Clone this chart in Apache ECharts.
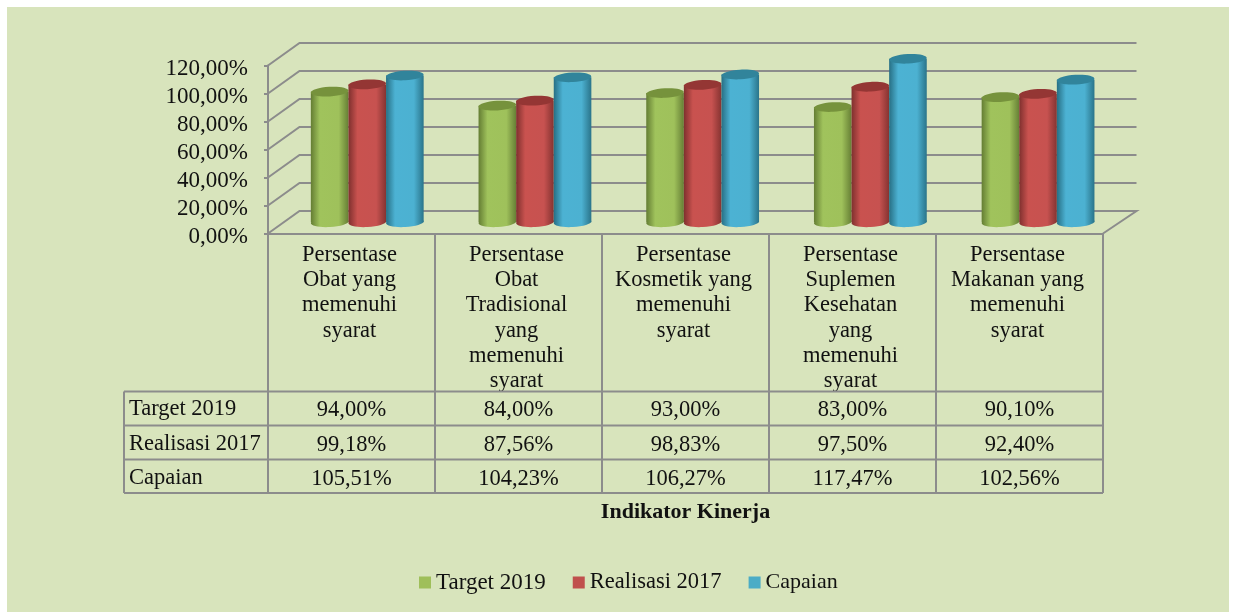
<!DOCTYPE html>
<html><head><meta charset="utf-8">
<style>html,body{margin:0;padding:0;background:#fff}#c{width:1236px;height:613px}</style>
<script src="https://cdn.jsdelivr.net/npm/echarts@6/dist/echarts.min.js"></script>
</head><body><div id="c"></div>
<script>
const categories = [
  'Persentase\nObat yang\nmemenuhi\nsyarat',
  'Persentase\nObat\nTradisional\nyang\nmemenuhi\nsyarat',
  'Persentase\nKosmetik yang\nmemenuhi\nsyarat',
  'Persentase\nSuplemen\nKesehatan\nyang\nmemenuhi\nsyarat',
  'Persentase\nMakanan yang\nmemenuhi\nsyarat'
];
const target2019 = [94.00, 84.00, 93.00, 83.00, 90.10];
const realisasi2017 = [99.18, 87.56, 98.83, 97.50, 92.40];
const capaian = [105.51, 104.23, 106.27, 117.47, 102.56];
const seriesNames = ['Target 2019', 'Realisasi 2017', 'Capaian'];
const yTicks = [0, 20, 40, 60, 80, 100, 120];

const FONT = '"Liberation Serif", serif';
const FS = 22.5;
const TXT = '#111111';
const GRID = '#8c8c8c';
const DX = 31.5, DY = 22.5;
const BAR_W = 37.6, RY = 4.8, TILT = 0.055, DRIFT = 0.7, TOP_SHIFT = 1;
const ROW_Y = [391.5, 425.5, 459.5, 493];
const ROW_SHIFT = [1.5, 2.5, 2.5];
const TABLE_LEFT = 124;
const fmt = v => v.toFixed(2).replace('.', ',') + '%';

const palettes = [
  {edgeL:'#647d33', mid:'#a0c35c', mid2:'#9fc15b', edgeR:'#667f35', top:'#76923c', leg:'#9fbf5a'},
  {edgeL:'#7f302e', mid:'#c9524f', mid2:'#c75250', edgeR:'#853331', top:'#943634', leg:'#c0504d'},
  {edgeL:'#276f84', mid:'#4cb2d3', mid2:'#4cb1d1', edgeR:'#2a748a', top:'#31849b', leg:'#4bacc6'}
];

function grad(p){
  return new echarts.graphic.LinearGradient(0,0,1,0,[
    {offset:0,color:p.edgeL},{offset:0.24,color:p.mid},
    {offset:0.74,color:p.mid2},{offset:1,color:p.edgeR}
  ]);
}

function barRender(si){
  const p = palettes[si];
  return function(params, api){
    const cat = api.value(0), val = api.value(1);
    const top = api.coord([cat, val]);
    const base = api.coord([cat, 0]);
    const cx = base[0] + DX/2 + (si-1)*BAR_W + cat*DRIFT;
    const by = base[1] - DY/2;
    const ty = top[1] - DY/2 + TOP_SHIFT;
    const g = grad(p);
    const rx = BAR_W/2;
    return {type:'group', children:[
      {type:'ellipse', x:cx, y:by, rotation:TILT, shape:{cx:0,cy:0,rx:rx,ry:RY}, style:{fill:g}},
      {type:'rect', shape:{x:cx-rx, y:ty, width:BAR_W, height:by-ty}, style:{fill:g}},
      {type:'ellipse', x:cx, y:ty, rotation:TILT, shape:{cx:0,cy:0,rx:rx,ry:RY}, style:{fill:p.top}},
      {type:'text', x:base[0], y:(ROW_Y[si]+ROW_Y[si+1])/2+ROW_SHIFT[si], style:{
        text:fmt(val), font:FS+'px '+FONT, fill:TXT, align:'center', verticalAlign:'middle'}}
    ]};
  };
}

function gridRender(params, api){
  const cs = params.coordSys;
  const y = api.coord([0, api.value(0)])[1];
  const L = cs.x, R = cs.x + cs.width;
  const pts = [[L,y],[L+DX,y-DY],[R+33.5,y-DY]];
  if (api.value(0) === 0) pts.push([R,y]);
  return {type:'polyline', shape:{points:pts}, style:{stroke:GRID, lineWidth:2, fill:null}};
}

function tableRender(params, api){
  const cs = params.coordSys;
  const ch = ROW_Y.map(y => ({type:'line', shape:{x1:TABLE_LEFT,y1:y,x2:cs.x+cs.width,y2:y},
    style:{stroke:GRID,lineWidth:2}}));
  ch.push({type:'line', shape:{x1:TABLE_LEFT,y1:ROW_Y[0],x2:TABLE_LEFT,y2:ROW_Y[3]}, style:{stroke:GRID,lineWidth:2}});
  seriesNames.forEach((n,i)=>ch.push({type:'text', x:129, y:(ROW_Y[i]+ROW_Y[i+1])/2+ROW_SHIFT[i]-1, style:{
    text:n, font:FS+'px '+FONT, fill:TXT, align:'left', verticalAlign:'middle'}}));
  return {type:'group', children:ch};
}

const values = [target2019, realisasi2017, capaian];
const legendSizes = [23, 22.5, 22];
const chart = echarts.init(document.getElementById('c'), null, {renderer:'canvas'});
chart.setOption({
  animation:false,
  backgroundColor:'#ffffff',
  graphic:[{type:'rect', z:-10, silent:true, shape:{x:7,y:7,width:1222,height:605}, style:{fill:'#d8e4bc'}}],
  grid:{left:268, top:65.5, width:835, height:168},
  legend:{
    data:seriesNames.map((n,i)=>({name:n,itemStyle:{color:palettes[i].leg},
      textStyle:{fontFamily:FONT,fontSize:legendSizes[i],color:TXT}})),
    left:414, top:566, icon:'rect', itemWidth:12, itemHeight:12, itemGap:27,
    textStyle:{fontFamily:FONT,fontSize:22.5,color:TXT}
  },
  xAxis:{
    type:'category', data:categories,
    name:'Indikator Kinerja', nameLocation:'middle', nameGap:268,
    nameTextStyle:{fontFamily:FONT,fontSize:22,fontWeight:'bold',color:'#111'},
    axisLine:{lineStyle:{color:GRID,width:2}},
    axisTick:{show:true,length:259.5,lineStyle:{color:GRID,width:2}},
    axisLabel:{fontFamily:FONT,fontSize:22.5,color:TXT,lineHeight:25.2,margin:9,interval:0,padding:[0,4,0,0]}
  },
  yAxis:{
    type:'value', min:0, max:120, interval:20,
    axisLine:{show:true,lineStyle:{color:GRID,width:2}},
    axisTick:{show:true,length:4,lineStyle:{color:GRID,width:2}},
    splitLine:{show:false},
    axisLabel:{fontFamily:FONT,fontSize:23,color:TXT,margin:20,verticalAlign:'top',lineHeight:6,
      formatter:v=>fmt(v)}
  },
  series:[
    {type:'custom', name:'_grid', silent:true, z:1, data:yTicks.map(v=>[v]), encode:{y:0}, renderItem:gridRender},
    {type:'custom', name:'_table', silent:true, z:1, data:[[0]], encode:{y:0}, renderItem:tableRender},
    ...seriesNames.map((n,i)=>({
      type:'custom', name:n, z:2+i, silent:true,
      itemStyle:{color:palettes[i].leg},
      data:values[i].map((v,c)=>[c,v]), encode:{x:0,y:1},
      renderItem:barRender(i)
    }))
  ]
});
</script></body></html>
